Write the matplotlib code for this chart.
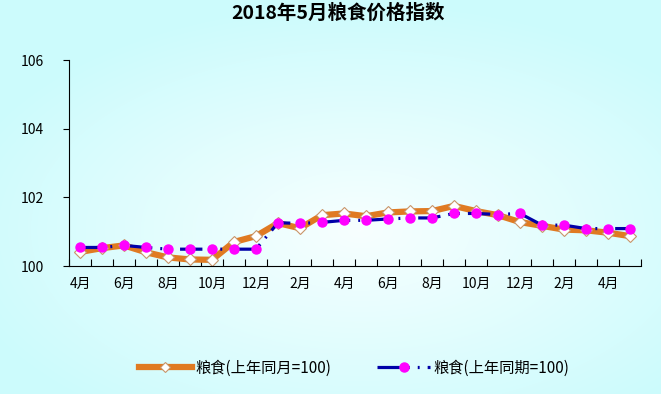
import numpy as np
import matplotlib
matplotlib.use('Agg')
import matplotlib.pyplot as plt
from matplotlib.lines import Line2D

plt.rcParams['font.family'] = ['Noto Sans CJK SC', 'DejaVu Sans']

title = '2018年5月粮食价格指数'
month_labels = ['4月', '6月', '8月', '10月', '12月', '2月', '4月',
                '6月', '8月', '10月', '12月', '2月', '4月']
# 2016年4月 .. 2018年5月
same_month = [100.41, 100.52, 100.60, 100.40, 100.25, 100.19, 100.18, 100.70,
              100.87, 101.25, 101.10, 101.48, 101.53, 101.45, 101.56, 101.59,
              101.60, 101.75, 101.60, 101.48, 101.28, 101.17, 101.06, 101.04,
              100.97, 100.87]
same_period = [100.54, 100.54, 100.60, 100.54, 100.49, 100.49, 100.49, 100.49,
               100.49, 101.26, 101.24, 101.27, 101.33, 101.33, 101.37, 101.40,
               101.40, 101.53, 101.53, 101.50, 101.53, 101.19, 101.19, 101.09,
               101.09, 101.09]
name_a = '粮食(上年同月=100)'
name_b = '粮食(上年同期=100)'

orange = '#e07a22'
navy = '#0000a8'
magenta = '#ff00ff'
dashdotdot = (0, (7, 2.5, 0.6, 2.5, 0.6, 2.5))

fig = plt.figure(figsize=(6.61, 3.94), dpi=100)

# background: cyan at edges, almost white in the middle
bg = fig.add_axes([0, 0, 1, 1], zorder=-10)
yy, xx = np.mgrid[0:394, 0:661]
r = np.sqrt(((xx - 360) / 420.0) ** 2 + ((yy - 230) / 230.0) ** 2)
t = np.clip(r, 0, 1)[..., None]
inner = np.array([0.97, 1.0, 1.0])
outer = np.array([0.80, 0.985, 0.99])
bg.imshow(inner * (1 - t) + outer * t, aspect='auto')
bg.axis('off')

ax = fig.add_axes([69 / 661, 1 - 266 / 394, (641 - 69) / 661, (266 - 60) / 394])
ax.patch.set_alpha(0)

x = np.arange(len(same_month))
ax.plot(x, same_month, color=orange, lw=4.5, marker='D', ms=6,
        mfc='white', mec='#c8956a', mew=0.8, zorder=2,
        solid_joinstyle='round')
ax.plot(x, same_period, color=navy, lw=2.3, linestyle=dashdotdot,
        marker='o', ms=6.5, mfc=magenta, mec=magenta, zorder=3)

ax.set_xlim(-0.5, len(x) - 0.5)
ax.set_ylim(100, 106)
ax.set_yticks([100, 102, 104, 106])
ax.set_xticks(np.arange(0, len(x), 2))
ax.set_xticklabels(month_labels)
ax.set_xticks(np.arange(-0.5, len(x)), minor=True)
ax.tick_params(axis='x', which='major', length=0, pad=8, labelsize=10)
ax.tick_params(axis='x', which='minor', direction='in', length=5, width=0.8)
ax.tick_params(axis='y', direction='out', length=4, width=0.8, pad=14, labelsize=10)
for s in ['top', 'right']:
    ax.spines[s].set_visible(False)
for s in ['left', 'bottom']:
    ax.spines[s].set_linewidth(0.8)

fig.text(338 / 661, 1 - 13 / 394, title, ha='center', va='center',
         fontsize=14, fontweight='bold')

h1 = Line2D([], [], color=orange, lw=4.5, marker='D', ms=5, mfc='white',
            mec='#c8956a', mew=0.8)
h2 = Line2D([], [], color=navy, lw=2.3, linestyle=dashdotdot,
            marker='o', ms=6.5, mfc=magenta, mec=magenta)
fig.legend([h1, h2], [name_a, name_b], loc='center', ncol=2,
           bbox_to_anchor=(354 / 661, 1 - 368 / 394), frameon=False,
           fontsize=11, handlelength=3.5, columnspacing=3.0, handletextpad=0.2)

fig.savefig('out.png', dpi=100)
